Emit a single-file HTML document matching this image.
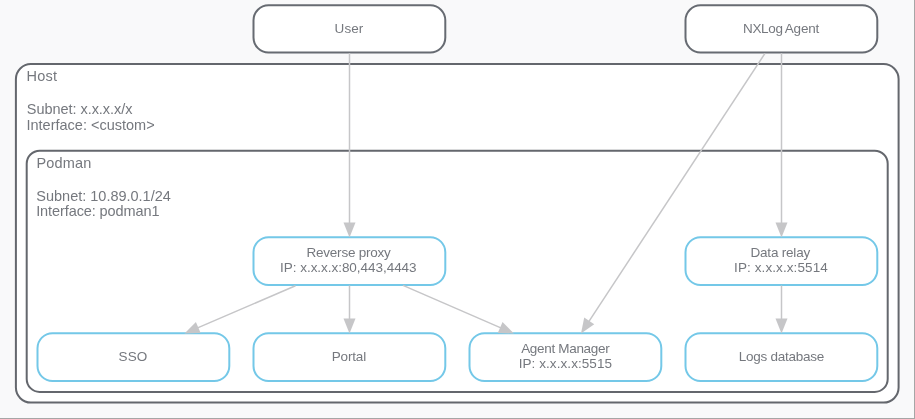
<!DOCTYPE html>
<html><head><meta charset="utf-8">
<style>
html,body{margin:0;padding:0;width:915px;height:419px;overflow:hidden;background:#f9f9fa;}
svg{display:block;will-change:transform;font-family:"Liberation Sans",sans-serif;}
</style></head>
<body>
<svg width="915" height="419" viewBox="0 0 915 419">
<g>
<rect x="0" y="0" width="915" height="419" fill="#f9f9fa"/>
<rect x="914" y="0" width="1" height="419" fill="#a6a6a6"/>
<rect x="0" y="418" width="915" height="1" fill="#a6a6a6"/>
<g fill="#ffffff" stroke="#64676d" stroke-width="2">
<rect x="15.9" y="64.1" width="882.7" height="338.5" rx="15"/>
<rect x="26.7" y="150.7" width="861" height="241.2" rx="13"/>
</g>
<g fill="#ffffff" stroke="#676b72" stroke-width="2">
<rect x="253.5" y="5.3" width="191.8" height="47.2" rx="15"/>
<rect x="685.5" y="5.3" width="191.8" height="47.2" rx="15"/>
</g>
<g fill="#ffffff" stroke="#74c8e8" stroke-width="2">
<rect x="253.5" y="237.2" width="191.8" height="47.8" rx="15"/>
<rect x="685.5" y="237.2" width="191.8" height="47.8" rx="15"/>
<rect x="37.5" y="333.2" width="191.8" height="47.8" rx="15"/>
<rect x="253.5" y="333.2" width="191.8" height="47.8" rx="15"/>
<rect x="469.5" y="333.2" width="191.8" height="47.8" rx="15"/>
<rect x="685.5" y="333.2" width="191.8" height="47.8" rx="15"/>
</g>
<g fill="#75787e">
<text id="User" x="334.62" y="32.70" font-size="13.50" textLength="28.55" lengthAdjust="spacing">User</text>
<text id="NXLog" x="743.03" y="33.00" font-size="13.50" textLength="39.87" lengthAdjust="spacing">NXLog</text>
<text id="Agent" x="784.75" y="33.00" font-size="13.50" textLength="34.63" lengthAdjust="spacing">Agent</text>
<text id="Host" x="26.52" y="80.80" font-size="14.50" textLength="30.54" lengthAdjust="spacing">Host</text>
<text id="SubnetH" x="26.86" y="113.70" font-size="14.50" textLength="105.54" lengthAdjust="spacing">Subnet: x.x.x.x/x</text>
<text id="IfaceH" x="26.49" y="129.60" font-size="14.50" textLength="128.17" lengthAdjust="spacing">Interface: &lt;custom&gt;</text>
<text id="Podman" x="36.52" y="167.90" font-size="14.50" textLength="54.81" lengthAdjust="spacing">Podman</text>
<text id="SubnetP" x="36.35" y="200.70" font-size="14.50" textLength="134.46" lengthAdjust="spacing">Subnet: 10.89.0.1/24</text>
<text id="IfaceP" x="36.18" y="216.20" font-size="14.50" textLength="123.37" lengthAdjust="spacing">Interface: podman1</text>
<text id="RP1" x="306.52" y="257.00" font-size="13.50" textLength="84.28" lengthAdjust="spacing">Reverse proxy</text>
<text id="RP2" x="280.09" y="272.00" font-size="13.50" textLength="136.49" lengthAdjust="spacing">IP: x.x.x.x:80,443,4443</text>
<text id="DR1" x="750.52" y="257.00" font-size="13.50" textLength="59.66" lengthAdjust="spacing">Data relay</text>
<text id="DR2" x="734.09" y="272.00" font-size="13.50" textLength="93.67" lengthAdjust="spacing">IP: x.x.x.x:5514</text>
<text id="SSO" x="118.47" y="360.90" font-size="13.50" textLength="28.89" lengthAdjust="spacing">SSO</text>
<text id="Portal" x="331.71" y="360.80" font-size="13.50" textLength="34.49" lengthAdjust="spacing">Portal</text>
<text id="AM1" x="521.18" y="352.60" font-size="13.50" textLength="88.49" lengthAdjust="spacing">Agent Manager</text>
<text id="AM2" x="518.68" y="367.90" font-size="13.50" textLength="93.35" lengthAdjust="spacing">IP: x.x.x.x:5515</text>
<text id="LD" x="738.65" y="360.50" font-size="13.50" textLength="85.60" lengthAdjust="spacing">Logs database</text>
</g>
<g stroke="#c6c6c8" stroke-width="1.5" fill="#c6c6c8">
<line x1="349.50" y1="53.00" x2="349.50" y2="224.50"/>
<polygon stroke="none" points="349.50,237.50 343.50,222.50 355.50,222.50"/>
<line x1="781.50" y1="53.00" x2="781.50" y2="224.50"/>
<polygon stroke="none" points="781.50,237.50 775.50,222.50 787.50,222.50"/>
<line x1="765.00" y1="53.40" x2="588.14" y2="322.54"/>
<polygon stroke="none" points="581.00,333.40 584.22,317.57 594.25,324.16"/>
<line x1="349.50" y1="285.50" x2="349.50" y2="320.50"/>
<polygon stroke="none" points="349.50,333.50 343.50,318.50 355.50,318.50"/>
<line x1="295.50" y1="285.80" x2="196.44" y2="328.37"/>
<polygon stroke="none" points="184.50,333.50 195.91,322.07 200.65,333.09"/>
<line x1="403.00" y1="285.40" x2="501.97" y2="328.33"/>
<polygon stroke="none" points="513.90,333.50 497.75,333.04 502.53,322.03"/>
<line x1="781.50" y1="285.50" x2="781.50" y2="320.50"/>
<polygon stroke="none" points="781.50,333.50 775.50,318.50 787.50,318.50"/>
</g>
</g>
</svg>
</body></html>
